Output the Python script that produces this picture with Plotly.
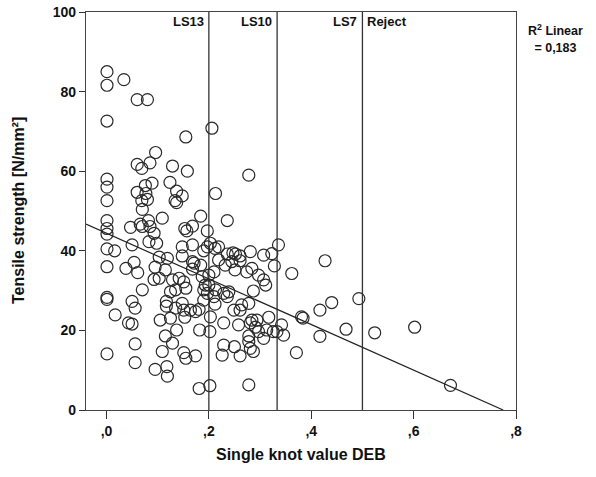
import plotly.graph_objects as go

# ---- data ----
knot_value = [
    0.001, 0.001, 0.034, 0.060, 0.080, 0.001, 0.206, 0.155,
    0.096, 0.060, 0.069, 0.085, 0.129, 0.158, 0.001, 0.001, 0.001,
    0.089, 0.124, 0.060, 0.076, 0.077, 0.137, 0.148, 0.069, 0.080,
    0.134, 0.137, 0.070, 0.213, 0.001, 0.001, 0.001, 0.047, 0.066,
    0.082, 0.109, 0.070, 0.085, 0.093, 0.153, 0.157, 0.168, 0.184,
    0.197, 0.083, 0.098, 0.050, 0.001, 0.016, 0.148, 0.168, 0.197,
    0.190, 0.212, 0.001, 0.054, 0.038, 0.103, 0.119, 0.148, 0.168,
    0.184,
    0.061, 0.095, 0.103, 0.115, 0.093, 0.129, 0.142, 0.151, 0.155,
    0.135, 0.125, 0.171, 0.168, 0.187, 0.193, 0.190, 0.197, 0.190,
    0.070, 0.001, 0.001, 0.050, 0.056, 0.017, 0.043, 0.050, 0.117,
    0.117, 0.135, 0.148, 0.151, 0.164, 0.174, 0.181, 0.125, 0.105,
    0.153, 0.137, 0.115, 0.129, 0.056, 0.001, 0.109, 0.151, 0.155,
    0.174, 0.056, 0.095, 0.118, 0.119, 0.182, 0.202, 0.203, 0.181,
    0.202,
    0.278, 0.236, 0.203, 0.336, 0.219,
    0.236, 0.247, 0.252, 0.261, 0.281, 0.307, 0.323, 0.427, 0.362,
    0.328, 0.210, 0.219, 0.232, 0.245, 0.261, 0.251, 0.274, 0.284,
    0.297, 0.307, 0.311, 0.287, 0.200, 0.200, 0.213, 0.229, 0.239,
    0.236, 0.210, 0.212, 0.229, 0.249, 0.261, 0.264, 0.278, 0.258,
    0.284, 0.281, 0.294, 0.291, 0.297, 0.307, 0.317, 0.313, 0.326,
    0.333, 0.342, 0.346, 0.381, 0.384, 0.417, 0.440, 0.417, 0.371,
    0.229, 0.250, 0.261, 0.226, 0.278, 0.281, 0.287, 0.278, 0.278,
    0.493, 0.468, 0.524, 0.602, 0.672,
]
tensile_strength = [
    85.0, 81.6, 83.0, 78.0, 78.0, 72.6, 70.8, 68.6,
    64.7, 61.7, 60.7, 62.1, 61.3, 60.0, 58.0, 56.0, 52.6,
    57.0, 57.2, 54.7, 56.4, 54.4, 55.0, 53.8, 52.6, 52.9,
    52.6, 52.1, 50.4, 54.4, 47.6, 45.6, 44.2, 45.9, 46.7,
    47.6, 48.2, 46.1, 46.1, 44.4, 45.6, 45.0, 46.2, 48.7,
    45.0, 42.3, 41.9, 41.5, 40.5, 40.0, 41.0, 41.5, 41.0,
    40.0, 40.6, 36.0, 37.1, 35.6, 38.4, 38.1, 38.7, 37.3,
    36.4,
    34.5, 35.9, 33.1, 35.2, 32.8, 32.7, 33.1, 32.2, 30.6,
    30.2, 29.7, 36.9, 35.4, 33.5, 31.4, 30.2, 29.3, 27.6,
    30.2, 28.3, 27.8, 27.3, 25.6, 23.9, 21.9, 21.6, 27.3,
    26.1, 25.6, 26.8, 25.1, 25.1, 24.7, 25.3, 23.1, 22.6,
    23.3, 20.1, 18.6, 16.8, 16.6, 14.1, 14.7, 14.4, 13.0,
    13.6, 11.9, 10.2, 10.9, 8.5, 20.1, 19.7, 23.4, 5.4,
    6.1,
    59.0, 47.6, 41.9, 41.5, 41.0,
    39.2, 39.5, 39.2, 38.7, 39.8, 38.9, 39.3, 37.5, 34.3,
    36.2, 34.7, 37.7, 36.4, 37.3, 37.5, 35.2, 34.7, 35.6,
    33.9, 32.7, 31.4, 29.9, 33.9, 31.4, 30.2, 29.3, 29.7,
    28.5, 28.5, 26.6, 21.9, 25.1, 25.1, 26.4, 26.8, 21.4,
    22.6, 21.9, 22.6, 20.8, 19.7, 18.0, 23.3, 20.1, 19.7,
    19.7, 21.4, 18.8, 23.4, 23.1, 25.1, 27.0, 18.5, 14.4,
    16.3, 15.9, 13.6, 13.8, 17.2, 15.5, 14.7, 18.6, 6.3,
    28.0, 20.3, 19.4, 20.8, 6.2,
]

# linear fit (R^2 = 0.183)
fit_intercept = 44.4
fit_slope = -57.3
r_squared_text = "0,183"

# grade thresholds
threshold_values = [0.2, 1 / 3, 0.5]
threshold_labels = ["LS13", "LS10", "LS7"]
reject_label = "Reject"

x_tick_values = [0.0, 0.2, 0.4, 0.6, 0.8]
x_tick_labels = [",0", ",2", ",4", ",6", ",8"]
y_tick_values = [0, 20, 40, 60, 80, 100]

x_title = "Single knot value DEB"
y_title = "Tensile strength [N/mm²]"

x_range = [-0.04, 0.8]
y_range = [0, 100]

FONT = "Liberation Sans, Arial, sans-serif"

fig = go.Figure()

fig.add_trace(go.Scatter(
    x=knot_value, y=tensile_strength, mode="markers",
    marker=dict(symbol="circle-open", size=12, color="#2a2a2a",
                line=dict(width=1.2, color="#2a2a2a")),
    hoverinfo="x+y", showlegend=False,
))

# regression line from left edge to where it reaches zero
x_end = -fit_intercept / fit_slope
fig.add_trace(go.Scatter(
    x=[x_range[0], x_end],
    y=[fit_intercept + fit_slope * x_range[0], 0],
    mode="lines", line=dict(color="#222222", width=1.2),
    hoverinfo="skip", showlegend=False,
))

for v in threshold_values:
    fig.add_shape(type="line", xref="x", yref="y", x0=v, x1=v,
                  y0=y_range[0], y1=y_range[1],
                  line=dict(color="#333333", width=1.3))

for v, lab in zip(threshold_values, threshold_labels):
    fig.add_annotation(x=v, y=y_range[1], xref="x", yref="y", text=f"<b>{lab}</b>",
                       showarrow=False, xanchor="right", yanchor="top",
                       xshift=-3, yshift=0, font=dict(family=FONT, size=13, color="#111"))
fig.add_annotation(x=threshold_values[-1], y=y_range[1], xref="x", yref="y",
                   text=f"<b>{reject_label}</b>", showarrow=False,
                   xanchor="left", yanchor="top", xshift=3, yshift=0,
                   font=dict(family=FONT, size=13, color="#111"))

fig.add_annotation(x=1.0, y=1.0, xref="paper", yref="paper",
                   text=f"<b>R<sup>2</sup> Linear<br>= {r_squared_text}</b>",
                   showarrow=False, xanchor="left", yanchor="top",
                   xshift=10, yshift=-8, align="center",
                   font=dict(family=FONT, size=12.5, color="#111"))

# axis titles
fig.add_annotation(x=0.5, y=0, xref="paper", yref="paper", text=f"<b>{x_title}</b>",
                   showarrow=False, xanchor="center", yanchor="middle", yshift=-44,
                   font=dict(family=FONT, size=16, color="#111"))
fig.add_annotation(x=0, y=0.5, xref="paper", yref="paper", text=f"<b>{y_title}</b>",
                   showarrow=False, xanchor="center", yanchor="middle", xshift=-68,
                   textangle=-90, font=dict(family=FONT, size=16, color="#111"))

fig.update_layout(
    width=596, height=477,
    margin=dict(l=86, r=80, t=12, b=67, autoexpand=False),
    paper_bgcolor="white", plot_bgcolor="white",
    font=dict(family=FONT, color="#111"),
)
fig.update_xaxes(
    range=x_range, tickvals=x_tick_values, ticktext=x_tick_labels,
    showgrid=False, zeroline=False, showline=True, mirror=True, automargin=False,
    linecolor="#444444", linewidth=1.3, ticks="outside", ticklen=8,
    tickcolor="#333", tickwidth=1.3,
    tickfont=dict(family=FONT, size=14, color="#111", weight="bold"),
)
fig.update_yaxes(
    range=y_range, tickvals=y_tick_values,
    showgrid=False, zeroline=False, showline=True, mirror=True, automargin=False,
    linecolor="#444444", linewidth=1.3, ticks="outside", ticklen=6,
    tickcolor="#333", tickwidth=1.3,
    tickfont=dict(family=FONT, size=14, color="#111", weight="bold"),
)

fig.write_html(
    "out.html",
    config={"displayModeBar": False},
    post_script="document.body.style.margin='0px';document.body.style.overflow='hidden';",
)
